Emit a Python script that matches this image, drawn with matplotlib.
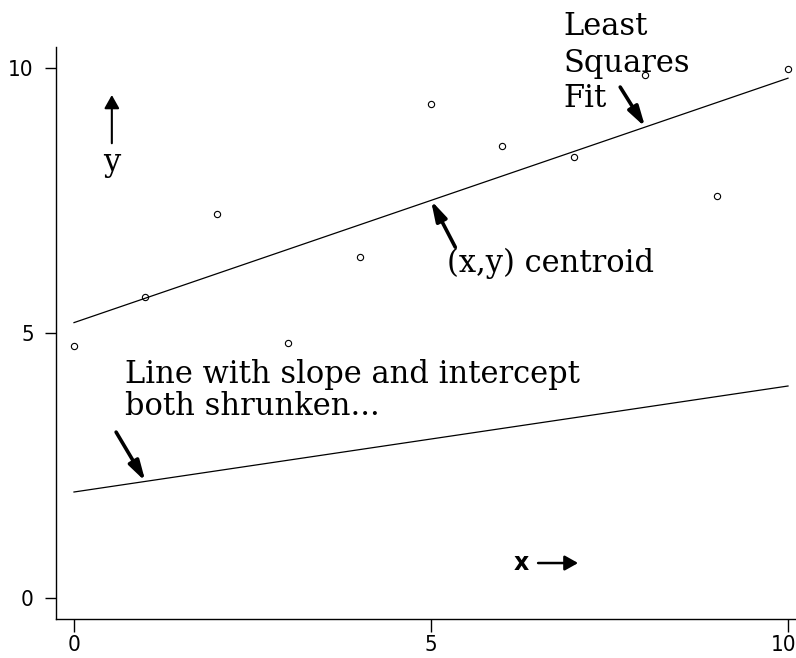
import matplotlib.pyplot as plt
import matplotlib.transforms as mtransforms
import numpy as np
from matplotlib import font_manager

# observed points
x = np.arange(11)
y = np.array([4.75, 5.68, 7.25, 4.81, 6.43, 9.32, 8.53, 8.32, 9.87, 7.58, 9.98])

# shrunken line parameters
shrunk_intercept = 2.0
shrunk_slope = 0.2

ticks = [0, 5, 10]

slope, intercept = np.polyfit(x, y, 1)
xbar, ybar = x.mean(), y.mean()
xs = np.array([0, 10])

serif = ["DejaVu Serif"]

# narrow face for tick numbers if one is around
names = {f.name for f in font_manager.fontManager.ttflist}
narrow = [n for n in ["Liberation Sans Narrow", "DejaVu Sans Condensed"] if n in names]
tick_family = narrow[0] if narrow else "DejaVu Sans"

fig = plt.figure(figsize=(7.96, 6.58), dpi=100)
ax = fig.add_axes([56 / 796, 39 / 658, 740 / 796, 572 / 658])

ax.plot(x, y, "o", ms=4.5, mfc="white", mec="black", mew=0.8, clip_on=False)
ax.plot(xs, intercept + slope * xs, color="black", lw=0.9)
ax.plot(xs, shrunk_intercept + shrunk_slope * xs, color="black", lw=0.9)

ax.set_xlim(-0.252, 10.112)
ax.set_ylim(-0.396, 10.396)
ax.set_xticks(ticks)
ax.set_yticks(ticks)
ax.tick_params(axis="x", length=9, width=1, pad=2.5)
ax.tick_params(axis="y", length=8, width=1, pad=8)
for lab in ax.get_xticklabels() + ax.get_yticklabels():
    lab.set_family(tick_family)
    lab.set_fontstretch("condensed")
    lab.set_fontweight("light")
    lab.set_fontsize(16)

# keep the last x label inside the figure edge
last = ax.get_xticklabels()[-1]
last.set_transform(last.get_transform()
                   + mtransforms.ScaledTranslation(-4 / 100, 0, fig.dpi_scale_trans))

for s in ["top", "right"]:
    ax.spines[s].set_visible(False)
for s in ["left", "bottom"]:
    ax.spines[s].set_linewidth(1)

fs = 22
head = "-|>,head_length=1.2,head_width=0.34"

# least squares label and arrow
for txt, yy in zip(["Least", "Squares", "Fit"], [10.62, 9.92, 9.26]):
    ax.text(6.85, yy, txt, family=serif, fontsize=fs, va="baseline")
ax.annotate("", xy=(8, intercept + slope * 8), xytext=(7.65, 9.64),
            arrowprops=dict(arrowstyle=head, lw=2.6, color="black",
                            shrinkA=0, shrinkB=0, mutation_scale=10))

# centroid
ax.text(5.22, 6.15, "(x,y) centroid", family=serif, fontsize=fs, va="baseline")
ax.annotate("", xy=(xbar, ybar), xytext=(5.34, 6.62),
            arrowprops=dict(arrowstyle=head, lw=2.6, color="black",
                            shrinkA=0, shrinkB=0, mutation_scale=10))

# shrunken line label
ax.text(0.714, 4.06, "Line with slope and intercept", family=serif,
        fontsize=fs, va="baseline")
ax.text(0.714, 3.45, "both shrunken...", family=serif, fontsize=fs,
        va="baseline")
ax.annotate("", xy=(1, shrunk_intercept + shrunk_slope * 1), xytext=(0.59, 3.13),
            arrowprops=dict(arrowstyle=head, lw=2.6, color="black",
                            shrinkA=0, shrinkB=0, mutation_scale=10))

# axis direction markers
ax.text(6.27, 0.66, "x", fontsize=17, fontweight="semibold", ha="center", va="center")
ax.annotate("", xy=(7.06, 0.66), xytext=(6.5, 0.66),
            arrowprops=dict(arrowstyle="-|>,head_length=0.8,head_width=0.45",
                            lw=1.8, color="black", shrinkA=0, shrinkB=0,
                            mutation_scale=10))
ax.annotate("", xy=(0.53, 9.49), xytext=(0.53, 8.58),
            arrowprops=dict(arrowstyle="-|>,head_length=0.8,head_width=0.45",
                            lw=1.5, color="black", shrinkA=0, shrinkB=0,
                            mutation_scale=10))
ax.text(0.53, 8.05, "y", family=serif, fontsize=fs, ha="center", va="baseline")

fig.savefig("out.png", dpi=100)
